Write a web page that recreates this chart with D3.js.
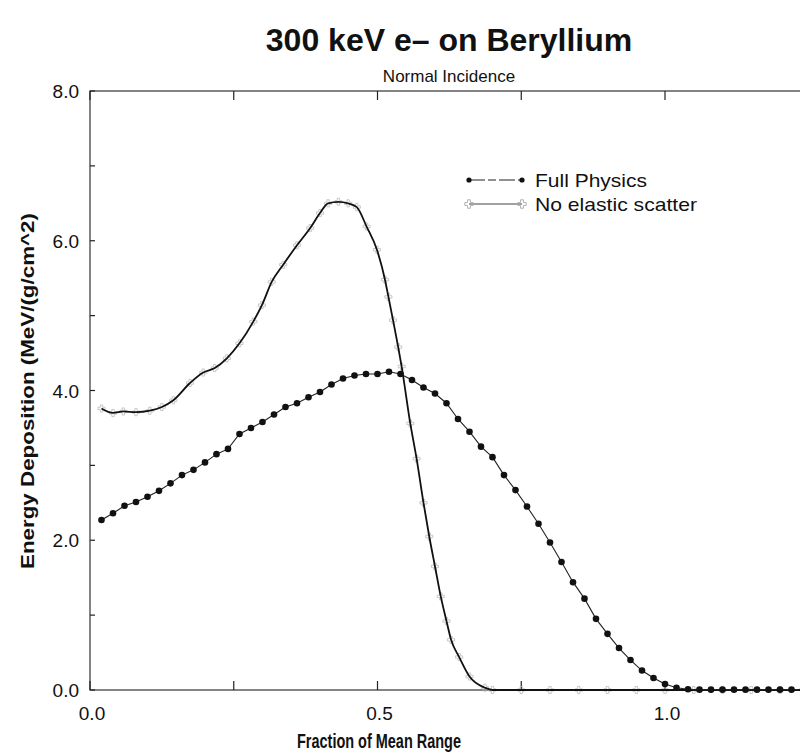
<!DOCTYPE html>
<html><head><meta charset="utf-8">
<script src="https://cdn.jsdelivr.net/npm/d3@7"></script>
<style>body{margin:0;background:#fff}svg{display:block}</style>
</head><body>
<svg id="c" width="800" height="752"></svg>
<script>
// ---- data ----
const fullX = [0.02,0.04,0.06,0.08,0.10,0.12,0.14,0.16,0.18,0.20,0.22,0.24,0.26,0.28,0.30,0.32,0.34,0.36,0.38,0.40,0.42,0.44,0.46,0.48,0.50,0.52,0.54,0.56,0.58,0.60,0.62,0.64,0.66,0.68,0.70,0.72,0.74,0.76,0.78,0.80,0.82,0.84,0.86,0.88,0.90,0.92,0.94,0.96,0.98,1.00,1.02,1.04,1.06,1.08,1.10,1.12,1.14,1.16,1.18,1.20,1.22,1.24];
const fullY = [2.27,2.36,2.46,2.51,2.58,2.66,2.76,2.87,2.94,3.04,3.15,3.22,3.42,3.50,3.58,3.68,3.78,3.83,3.91,3.98,4.08,4.16,4.20,4.22,4.22,4.25,4.22,4.14,4.04,3.96,3.83,3.62,3.45,3.25,3.11,2.87,2.67,2.45,2.22,1.97,1.71,1.44,1.22,0.95,0.75,0.56,0.40,0.26,0.16,0.08,0.03,0.01,0.005,0.005,0.005,0.005,0.005,0.005,0.005,0.005,0.005,0.005];
const noElX = [0.02,0.04,0.058,0.08,0.104,0.125,0.145,0.174,0.197,0.217,0.238,0.26,0.284,0.299,0.316,0.336,0.36,0.383,0.40,0.414,0.432,0.449,0.464,0.481,0.499,0.513,0.519,0.527,0.536,0.542,0.557,0.568,0.58,0.59,0.60,0.61,0.62,0.628,0.642,0.66,0.687,0.70,0.75,0.80,0.85,0.90,0.95,1.00,1.05,1.10,1.15,1.20,1.25];
const noElY = [3.76,3.70,3.72,3.71,3.73,3.78,3.87,4.10,4.24,4.30,4.43,4.63,4.92,5.14,5.45,5.68,5.94,6.17,6.37,6.50,6.52,6.50,6.45,6.19,5.88,5.48,5.25,4.94,4.58,4.32,3.56,3.09,2.50,2.05,1.65,1.25,0.92,0.67,0.44,0.18,0.03,0.0,0.0,0.0,0.0,0.0,0.0,0.0,0.0,0.0,0.0,0.0,0.0];
const xTicks = [0,0.25,0.5,0.75,1.0,1.25];
const xLabels = [0.0,0.5,1.0];
const yTicks = [0,1,2,3,4,5,6,7,8];
const yLabels = [0,2,4,6,8];
const seriesNames = ["Full Physics","No elastic scatter"];
const title = "300 keV e\u2013 on Beryllium";
const subtitle = "Normal Incidence";
const xTitle = "Fraction of Mean Range";
const yTitle = "Energy Deposition (MeV/(g/cm^2)";

// ---- drawing ----
const svg = d3.select("#c");
const font = "'Liberation Sans', Arial, Helvetica, sans-serif";
const x = d3.scaleLinear().domain([0,1.25]).range([90,808.75]);
const y = d3.scaleLinear().domain([0,8]).range([690,91]);

// frame
svg.append("rect").attr("x",x(0)).attr("y",y(8)).attr("width",x(1.25)-x(0)).attr("height",y(0)-y(8))
  .attr("fill","none").attr("stroke","#333").attr("stroke-width",1.2);

// ticks (inward)
const g = svg.append("g").attr("stroke","#222").attr("stroke-width",1.2);
xTicks.forEach(t=>{
  g.append("line").attr("x1",x(t)).attr("x2",x(t)).attr("y1",y(0)).attr("y2",y(0)-9);
  g.append("line").attr("x1",x(t)).attr("x2",x(t)).attr("y1",y(8)).attr("y2",y(8)+9);
});
yTicks.forEach(t=>{
  g.append("line").attr("x1",x(0)).attr("x2",x(0)+5).attr("y1",y(t)).attr("y2",y(t));
});

// tick labels
svg.append("g").selectAll("text").data(xLabels).join("text")
  .attr("x",d=>x(d)+2).attr("y",720).attr("text-anchor","middle")
  .attr("font-family",font).attr("font-size",19).attr("fill","#111")
  .text(d=>d3.format(".1f")(d));
svg.append("g").selectAll("text").data(yLabels).join("text")
  .attr("x",79).attr("y",d=>y(d)+7).attr("text-anchor","end")
  .attr("font-family",font).attr("font-size",19).attr("fill","#111")
  .text(d=>d3.format(".1f")(d));

// titles
svg.append("text").attr("x",449).attr("y",51).attr("text-anchor","middle")
  .attr("font-family",font).attr("font-size",32).attr("font-weight","bold").attr("fill","#111").text(title);
svg.append("text").attr("x",449).attr("y",82).attr("text-anchor","middle")
  .attr("font-family",font).attr("font-size",17).attr("fill","#111").text(subtitle);
svg.append("text").attr("x",379).attr("y",748).attr("text-anchor","middle")
  .attr("font-family",font).attr("font-size",20).attr("font-weight","bold").attr("fill","#111")
  .attr("textLength",164).attr("lengthAdjust","spacingAndGlyphs").text(xTitle);
svg.append("text").attr("transform","translate(34,391) rotate(-90)").attr("text-anchor","middle")
  .attr("font-family",font).attr("font-size",18).attr("font-weight","bold").attr("fill","#111")
  .attr("textLength",356).attr("lengthAdjust","spacingAndGlyphs").text(yTitle);

// clip
svg.append("clipPath").attr("id","clip").append("rect")
  .attr("x",x(0)).attr("y",y(8)-5).attr("width",x(1.25)-x(0)+10).attr("height",y(0)-y(8)+10);
const plot = svg.append("g").attr("clip-path","url(#clip)");

// No elastic scatter
const noEl = noElX.map((v,i)=>[v,noElY[i]]);
plot.append("g").selectAll("path.m").data(noEl).join("path")
  .attr("transform",d=>`translate(${x(d[0])},${y(d[1])})`)
  .attr("d",d3.symbol(d3.symbolCross,28)).attr("fill","none").attr("stroke","#bbb").attr("stroke-width",0.8);
plot.append("path").datum(noEl)
  .attr("d",d3.line().x(d=>x(d[0])).y(d=>y(d[1])).curve(d3.curveMonotoneX))
  .attr("fill","none").attr("stroke","#111").attr("stroke-width",1.8);

// Full physics
const full = fullX.map((v,i)=>[v,fullY[i]]);
plot.append("path").datum(full)
  .attr("d",d3.line().x(d=>x(d[0])).y(d=>y(d[1])))
  .attr("fill","none").attr("stroke","#222").attr("stroke-width",1.1);
plot.append("g").selectAll("circle").data(full).join("circle")
  .attr("cx",d=>x(d[0])).attr("cy",d=>y(d[1])).attr("r",3.3).attr("fill","#111");

// legend
const lg = svg.append("g");
lg.append("line").attr("x1",469).attr("x2",522).attr("y1",180).attr("y2",180).attr("stroke","#222").attr("stroke-width",1.1).attr("stroke-dasharray","16,3,8,3");
lg.append("circle").attr("cx",469).attr("cy",180).attr("r",2.6).attr("fill","#111");
lg.append("circle").attr("cx",522).attr("cy",180).attr("r",2.6).attr("fill","#111");
lg.append("text").attr("x",535).attr("y",187).attr("font-family",font).attr("font-size",19).attr("fill","#111")
  .attr("textLength",112).attr("lengthAdjust","spacingAndGlyphs").text(seriesNames[0]);
lg.append("line").attr("x1",469).attr("x2",522).attr("y1",204).attr("y2",204).attr("stroke","#444").attr("stroke-width",1.1);
[469,522].forEach(cx=>lg.append("path").attr("transform",`translate(${cx},204)`)
  .attr("d",d3.symbol(d3.symbolCross,40)).attr("fill","none").attr("stroke","#aaa").attr("stroke-width",0.9));
lg.append("text").attr("x",535).attr("y",211).attr("font-family",font).attr("font-size",19).attr("fill","#111")
  .attr("textLength",162).attr("lengthAdjust","spacingAndGlyphs").text(seriesNames[1]);
</script>
</body></html>
